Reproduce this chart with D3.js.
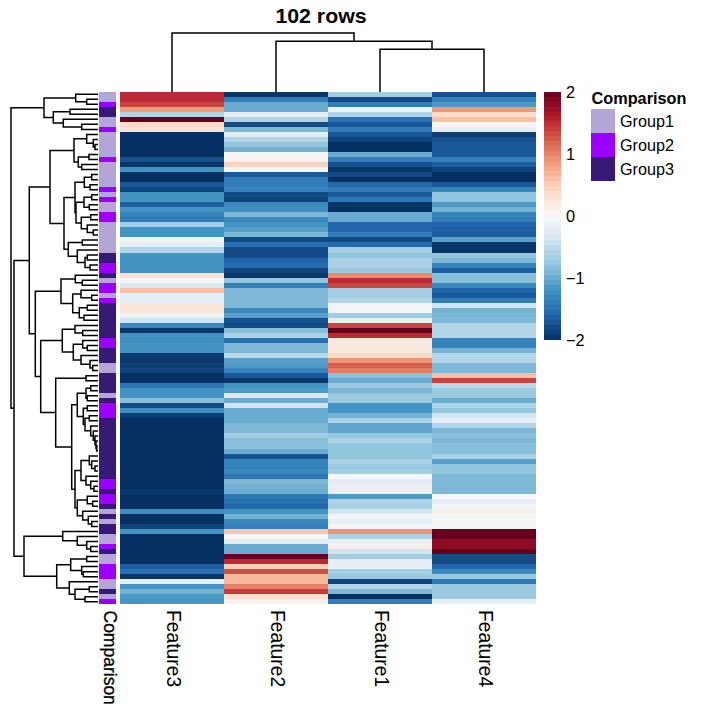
<!DOCTYPE html>
<html><head><meta charset="utf-8">
<script src="https://cdn.jsdelivr.net/npm/d3@7"></script>
<style>html,body{margin:0;padding:0;background:#fff}svg{display:block}text{font-family:"Liberation Sans",Arial,sans-serif;fill:#000}</style>
</head><body><div id="chart"></div>
<script>
const title = "102 rows";
const features = ["Feature3","Feature2","Feature1","Feature4"];
const groupNames = ["Group1","Group2","Group3"];
const groupColors = ["#B3A5D5","#9B00FF","#371A75"];
const colorTicks = [2,1,0,-1,-2];
const feature3 = [1.5,1.5,1.35,.85,-.6,2,.4,.3,-2,-2,
-2,-2,-2,-1.75,-1.95,-1.2,-2,-2,-1.7,-1.85,
-1.2,-1.2,-1.65,-1.2,-1.35,-1.4,-.7,-1.2,-1.2,-.05,
-.2,-.6,-1.2,-1.2,-1.2,-1.2,.3,-.05,-.3,.6,
-.2,-.2,.25,.25,-.1,-.4,-1.3,-1.95,-1.2,-1.25,
-1.2,-1.2,-1.9,-1.95,-1.9,-1.85,-2,-2,-1.45,-1.2,
-1.2,-.85,-1.8,-1.25,-1.9,-2,-2,-2,-2,-2,
-2,-2,-2,-2,-2,-2,-2,-2,-2,-1.95,
-2,-2,-2,-1.25,-2,-2,-1.85,-1.2,-2,-2,
-2,-2,-2,-2,-1.65,-1.5,-1.95,-.2,-1.2,-.95,-1.15,-1.2];
const feature2 = [-1.95,-1.4,-1,-1,-.2,-.6,-1.8,-.9,-.2,-.6,
-.8,-.95,0,.05,.45,0,-1.7,-1.4,-1.4,-1.35,
-1.8,-1.85,-1.3,-1.25,-.9,-1.3,-1.2,-1.1,-.9,-1.8,
-1.5,-1.8,-1.8,-1.6,-1.55,-1.85,-1.95,-.8,-1.4,-.9,
-.9,-.9,-.9,-1.3,-1.1,-1.75,-1.8,-.85,-.65,-1.5,
-.9,-.9,-.55,-1.1,-1.15,-1.35,-1.7,-1.95,-1.2,-1.15,
-.3,-1,-.4,-1,-1,-1,-.9,-.9,-.7,-.85,
-.85,-1,-1.75,-1.35,-1.35,-1.3,-1.45,-.9,-.95,-1,
-1.45,-1.5,-1.6,-1.2,-.95,-1.3,-1.35,.55,.05,-.2,
-1,-1,2,1.5,.5,1.3,.65,.65,1,1.4,.35,.08];
const feature1 = [-.7,-1.8,-1.4,-.1,-.6,-1.5,-1.7,-1.4,-1.7,-1.85,
-2,-2,-1,-1.4,-1.75,-1.95,-1.8,-2,-1.55,-1.4,
-1.7,-1.45,-1.95,-2,-1,-1,-1.6,-1.6,-1.4,-1.8,
-1.55,-.7,-.8,-.65,-.65,-.75,.95,1.5,1.35,-.7,
-.7,-.6,-.05,-.05,-.7,-.15,1.35,2,1.5,.2,
.2,.2,.4,.9,1.2,1.05,-.85,-1,-.75,-.9,
-.75,-.75,-1.2,-1.2,-.95,-.65,-1.05,-1.05,-.8,-.65,
-.8,-.8,-.8,-.65,-.75,-.7,0,-.2,-.15,-.15,
-1.15,-.65,-.65,-.35,-.05,-.2,-.03,.9,-.65,-.15,
.1,-.4,-.7,-.2,-.2,-.7,-.75,-1.85,-.6,-.9,-2,-1.4];
const feature4 = [-1.75,-1.35,-1.15,.85,.4,.6,-.03,-.2,-1.9,-1.75,
-1.7,-1.7,-1.7,-1.35,-1.65,-1.85,-2,-2,-1.7,-1.35,
-.8,-.8,-1.15,-.95,-1.35,-1.4,-1.6,-1.65,-1.65,-1.1,
-1.95,-1.95,-.8,-.9,-1.35,-1.65,-.85,-.85,-1.3,-1.6,
-1.7,-1.4,-.4,-.95,-.9,-.9,-.6,-.6,-.6,-1.35,
-1.35,-.95,-.6,-.6,-.9,-.9,.6,1.35,-.55,-.75,
-.75,-1,-.65,-.8,-.4,-.2,-.6,-.9,-.85,-.9,
-.85,-.85,-.65,-1.1,-.8,-.8,-.9,-.9,-.9,-.9,
0,-.2,-.1,.12,-.03,-.03,-.03,2,2,1.8,
1.8,2,-1.8,-1.8,-1.6,-1.3,-.75,-1.45,-.75,-.75,-.75,-.2];
const rowGroup = [1,1,2,3,3,1,1,2,1,1,
1,1,1,2,1,1,1,1,1,2,
1,2,1,1,2,2,1,1,1,1,
1,1,3,3,2,2,3,1,2,2,
1,2,3,3,3,3,3,3,3,2,
2,3,3,3,1,1,3,3,3,3,
1,3,2,2,2,3,3,3,3,3,
3,3,3,3,3,3,3,2,2,3,
2,2,3,1,3,1,3,3,1,1,
2,3,1,1,2,2,2,1,1,3,1,2];
// dendrograms: [height, child, child]; a bare number is a leaf (row or column index)
const colTree = [59,0,[50.7,1,[42.7,2,3]]];
const rowTree = [87,
 [54,[22.3,0,[11.3,1,2]],[44.7,[28,3,4],[34.7,5,[16.3,6,7]]]],
 [84,
  [68.7,
   [48,
    [24,[11.3,8,[4.7,9,[3,10,11]]],[19.7,[9,12,13],[16.3,14,15]]],
    [34,
     [23,[13.7,[6.3,16,17],[8,18,19]],[22,[14,[6.3,20,21],[8.7,22,23]],[16.7,[7.3,24,25],[10.7,26,[4.7,27,28]]]]],
     [29.7,[15.7,29,30],[20.7,31,[13,[10.7,32,33],[8,34,35]]]]]],
   [62.7,
    [37,[22.7,36,[15.7,37,38]],[25.3,[17,39,[6.3,40,41]],[18.7,[10.7,42,43],[14,44,45]]]],
    [57.3,
     [35.7,[23,46,[15.3,47,48]],[24.7,[15.3,49,[10.7,50,51]],[17,52,[8,53,[5.3,54,55]]]]],
     [42.3,[12,56,57],
      [26.3,
       [20.7,[12,[7.3,58,59],[10.7,60,61]],[14.7,[10.7,62,63],[13,[8.7,64,65],[7.3,66,[4.7,67,[3,68,[2,69,[1.3,70,71]]]]]]]],
       [23,[17,[8.7,72,[6.3,73,[3,74,75]]],[12,76,[7.3,77,[4,78,79]]]],[20.7,[10.7,80,[5.3,81,82]],[15.3,83,[9.7,84,[6.3,85,86]]]]]]]]]],
  [74,
   [35.3,87,[20.7,88,[11.3,89,[7.3,90,91]]]],
   [41.3,[27.3,[11.3,92,93],[16.3,94,[14.7,95,96]]],[28.7,97,[23,[8.7,98,99],[13,100,101]]]]]]];

const matrix = [feature3,feature2,feature1,feature4];
const W=707,H=719;
const svg=d3.select("#chart").append("svg").attr("width",W).attr("height",H);
const rows=d3.range(feature3.length);
const y=d3.scaleBand().domain(rows).range([91.7,604.3]);
const x=d3.scaleBand().domain(features).range([120,536]);
const xAnn=d3.scaleBand().domain(["Comparison"]).range([99,116]);
const rdbu=d3.schemeRdBu[11].slice().reverse();
const color=d3.scaleLinear().domain(d3.range(11).map(i=>-2+i*0.4)).range(rdbu).clamp(true);
const cGroup=d3.scaleOrdinal().domain([1,2,3]).range(groupColors);

// heatmap
features.forEach((f,j)=>{
  svg.append("g").selectAll("rect").data(matrix[j]).join("rect")
    .attr("x",x(f)).attr("width",x.bandwidth())
    .attr("y",(d,i)=>y(i)).attr("height",y.bandwidth())
    .attr("fill",d=>color(d)).attr("shape-rendering","crispEdges");
});
// annotation
svg.append("g").selectAll("rect").data(rowGroup).join("rect")
  .attr("x",xAnn("Comparison")).attr("width",xAnn.bandwidth())
  .attr("y",(d,i)=>y(i)).attr("height",y.bandwidth())
  .attr("fill",d=>cGroup(d)).attr("shape-rendering","crispEdges");

// dendrograms
const hRow=d3.scaleLinear().domain([0,87]).range([98,11]);
const hCol=d3.scaleLinear().domain([0,59]).range([92,33]);
function layout(node,pos,h,segs){
  if(typeof node==="number") return {p:pos(node),v:h(0)};
  const a=layout(node[1],pos,h,segs), b=layout(node[2],pos,h,segs), v=h(node[0]);
  segs.push({a,b,v});
  return {p:(a.p+b.p)/2,v};
}
const rowSegs=[],colSegs=[];
layout(rowTree,i=>y(i)+y.bandwidth()/2,hRow,rowSegs);
layout(colTree,i=>x(features[i])+x.bandwidth()/2,hCol,colSegs);
svg.append("g").selectAll("path").data(rowSegs).join("path")
  .attr("fill","none").attr("stroke","#000").attr("stroke-width",1.5)
  .attr("d",d=>`M${d.a.v},${d.a.p}H${d.v}V${d.b.p}H${d.b.v}`);
svg.append("g").selectAll("path").data(colSegs).join("path")
  .attr("fill","none").attr("stroke","#000").attr("stroke-width",1.5)
  .attr("d",d=>`M${d.a.p},${d.a.v}V${d.v}H${d.b.p}V${d.b.v}`);

// title
svg.append("text").text(title).attr("transform","translate(321,22.7) scale(1.04,1)").attr("text-anchor","middle")
  .style("font-weight","bold").style("font-size","20.5px");

// column labels
features.forEach(f=>{
  svg.append("text").text(f)
    .attr("transform",`translate(${x(f)+x.bandwidth()/2-5},610) rotate(90) scale(.92,1)`)
    .style("font-size","21px");
});
svg.append("text").text("Comparison")
  .attr("transform",`translate(103.5,610.5) rotate(90)`)
  .style("font-size","17.5px").style("stroke","#000").style("stroke-width","0.3px");

// colour bar
const cb=d3.scaleLinear().domain([2,-2]).range([91.7,339.5]);
const steps=d3.range(50).map(i=>2-4*(i+.5)/50);
const stepH=(cb(-2)-cb(2))/50;
svg.append("g").selectAll("rect").data(steps).join("rect")
  .attr("x",544).attr("width",17).attr("y",d=>cb(d)-stepH/2).attr("height",stepH+.5)
  .attr("fill",d=>color(d)).attr("shape-rendering","crispEdges");
svg.append("g").selectAll("text").data(colorTicks).join("text")
  .text(d=>d<0?"\u2212"+Math.abs(d):d).attr("x",566).attr("y",d=>cb(d)+6)
  .style("font-size","16.3px");

// legend
svg.append("text").text("Comparison").attr("x",591.5).attr("y",104).style("font-weight","bold").style("font-size","16.3px");
const lg=d3.scaleBand().domain(groupNames).range([109.3,181]);
svg.append("g").selectAll("rect").data(groupNames).join("rect")
  .attr("x",591).attr("width",24).attr("y",d=>lg(d)).attr("height",lg.bandwidth())
  .attr("fill",(d,i)=>groupColors[i]).attr("shape-rendering","crispEdges");
svg.append("g").selectAll("text").data(groupNames).join("text")
  .text(d=>d).attr("x",620).attr("y",d=>lg(d)+lg.bandwidth()/2+5.5).style("font-size","16.2px");
</script></body></html>
